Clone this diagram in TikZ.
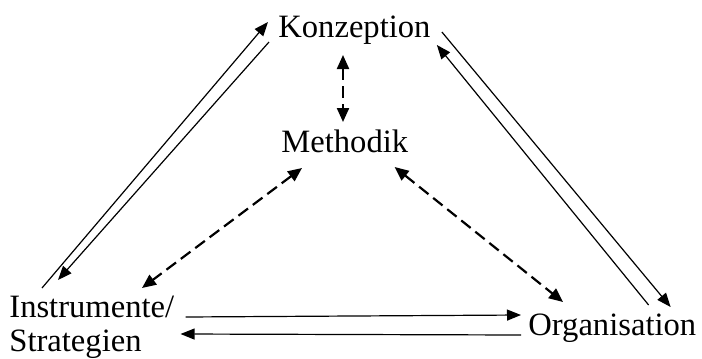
\documentclass[tikz,border=0pt]{standalone}
\usepackage{fontspec}
\setmainfont{Liberation Serif}
\usepackage{tikz}
\usetikzlibrary{arrows.meta,calc,positioning}

\tikzset{
    lbl/.style={inner sep=0pt, font=\fontsize{16.3pt}{20pt}\selectfont},
    link/.style={line width=0.6pt, -{Triangle[length=7pt,width=5.5pt]}},
    dlink/.style={line width=1.1pt, dash pattern=on 6pt off 3pt,
        {Triangle[length=7pt,width=6pt]}-{Triangle[length=7pt,width=6pt]}}
}

\begin{document}
\begin{tikzpicture}[x=0.5pt, y=-0.5pt]

    \useasboundingbox (0,0) rectangle (702,359);

    \node[lbl, anchor=base west] (konzeption) at (278,37) {Konzeption};
    \node[lbl, anchor=base west] (methodik) at (281,152) {Methodik};
    \node[lbl, anchor=base west] (instrumente) at (9,317) {Instrumente/};
    \node[lbl, anchor=base west] (strategien) at (9,351) {Strategien};
    \node[lbl, anchor=base west] (organisation) at (528,335) {Organisation};

    % ----------

    \draw[link] ($(instrumente.base west)+(33,-29)$) -- ($(konzeption.base west)+(-10,-15)$);
    \draw[link] ($(konzeption.base west)+(-9,5)$) -- ($(instrumente.base west)+(49,-37)$);

    % ----------

    \draw[link] ($(konzeption.base east)+(11,-5)$) -- ($(organisation.base east)+(-26,-28)$);
    \draw[link] ($(organisation.base east)+(-48,-30)$) -- ($(konzeption.base east)+(6,8)$);

    % ----------

    \draw[link] ($(instrumente.base east)+(11,0)$) -- ($(organisation.base west)+(-7,-20)$);
    \draw[link] ($(organisation.base west)+(-7,0)$) -- ($(instrumente.base east)+(6,17)$);

    % -------

    \draw[dlink] ($(konzeption.base west)+(65,18)$) -- ($(methodik.base west)+(62,-30)$);
    \draw[dlink] ($(methodik.base west)+(21,16)$) -- ($(instrumente.base west)+(133,-29)$);
    \draw[dlink] ($(methodik.base east)+(-14,15)$) -- ($(organisation.base west)+(35,-33)$);

\end{tikzpicture}
\end{document}
